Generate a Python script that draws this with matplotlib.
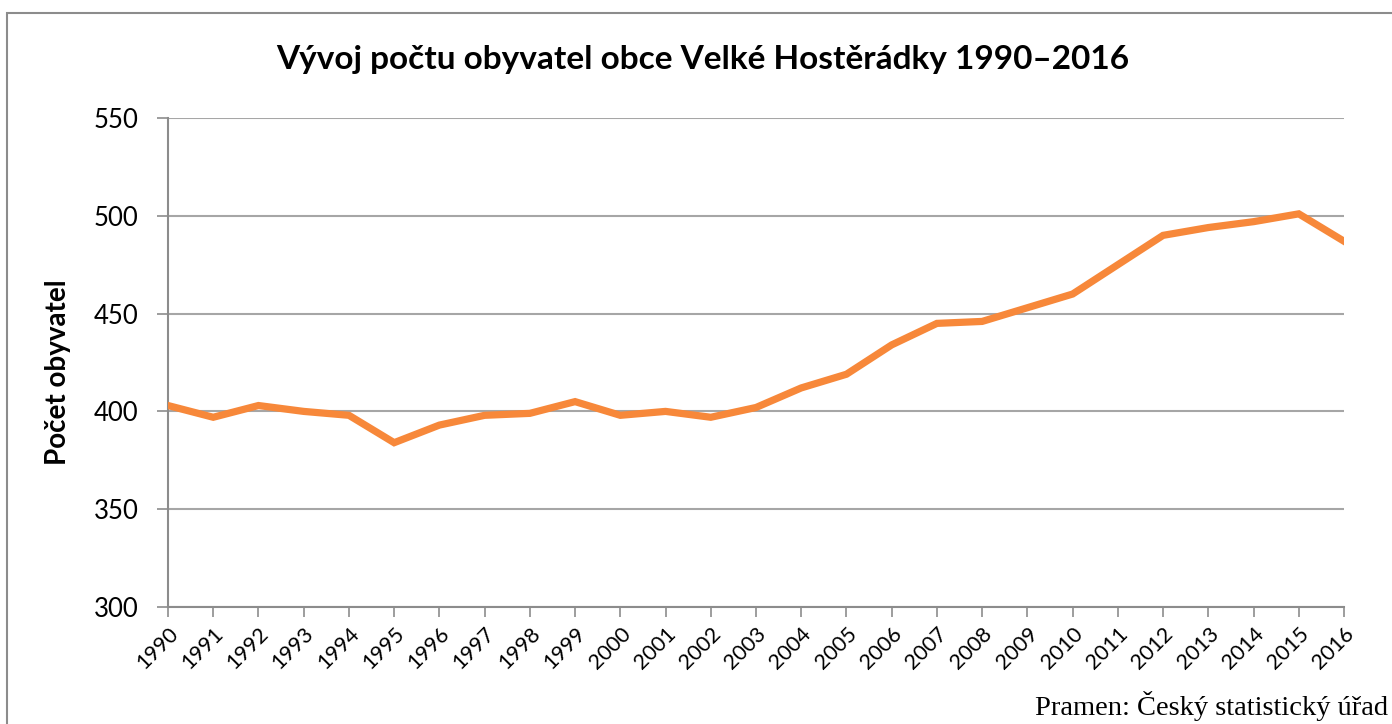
import matplotlib
matplotlib.use("Agg")
import matplotlib.pyplot as plt
from matplotlib.patches import Rectangle

# data
years = list(range(1990, 2017))
population = [403, 397, 403, 400, 398, 384, 393, 398, 399, 405,
              398, 400, 397, 402, 412, 419, 434, 445, 446, 453,
              460, 475, 490, 494, 497, 501, 487]
y_ticks = [300, 350, 400, 450, 500, 550]

title = "Vývoj počtu obyvatel obce Velké Hostěrádky 1990–2016"
y_label = "Počet obyvatel"
source = "Pramen: Český statistický úřad"

plt.rcParams['font.family'] = ['Lato', 'DejaVu Sans']

fig = plt.figure(figsize=(13.92, 7.24), dpi=100)
W, H = 1392, 724
ax = fig.add_axes([168 / W, 1 - 607 / H, 1176 / W, 489 / H])

# outer chart frame
fig.patches.append(Rectangle((7 / W, -0.2), 1.2, 1.2 - 13 / H,
                             transform=fig.transFigure, fill=False,
                             edgecolor='#8c8c8c', linewidth=1.5, zorder=0))

ax.plot(years, population, color='#F7883A', linewidth=5.2,
        solid_joinstyle='miter', zorder=3)

ax.set_xlim(1990, 2016)
ax.set_ylim(300, 550)
ax.set_yticks(y_ticks)
ax.set_xticks(years)
ax.set_xticklabels([str(y) for y in years], rotation=45, ha='right',
                   rotation_mode='anchor', fontsize=15.5)
ax.tick_params(axis='y', labelsize=18.5, length=8, width=1.2, color='#8c8c8c',
               pad=13)
ax.tick_params(axis='x', length=7, width=1.2, color='#8c8c8c', pad=5)

ax.grid(axis='y', color='#a6a6a6', linewidth=1.5)
ax.set_axisbelow(True)
for side in ['top', 'right']:
    ax.spines[side].set_visible(False)
for side in ['left', 'bottom']:
    ax.spines[side].set_color('#8c8c8c')
    ax.spines[side].set_linewidth(1.5)

fig.text(703 / W, 1 - 60 / H, title, ha='center', va='center',
         fontsize=24, fontweight='bold')
fig.text(58 / W, 1 - 372 / H, y_label, ha='center', va='center',
         rotation=90, fontsize=20, fontweight='bold')
fig.text(1388 / W, 1 - 721 / H, source, ha='right', va='bottom',
         fontsize=20.5, family=['Liberation Serif', 'DejaVu Serif'])

fig.savefig('out.png', dpi=100)
